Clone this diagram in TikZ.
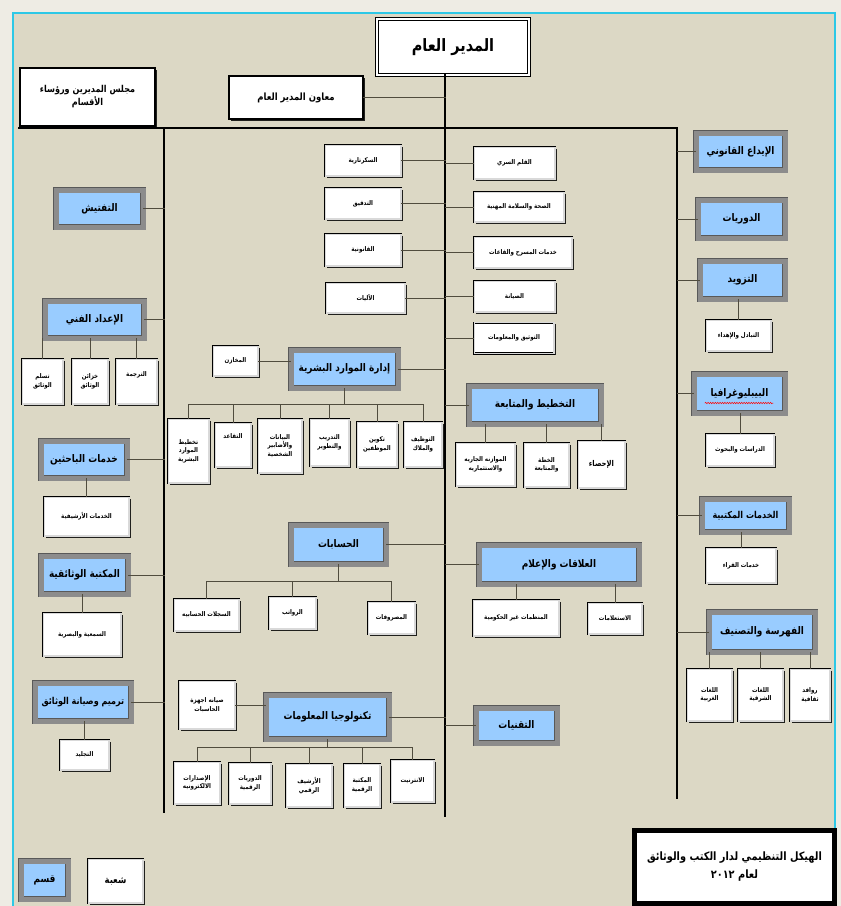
\documentclass[tikz,border=0pt]{standalone}
\usepackage{fontspec}
\newfontfamily\arabicfont[Script=Arabic,FakeStretch=0.85]{DejaVu Sans}
\TeXXeTstate=1
\usetikzlibrary{shadows,decorations.pathmorphing}
\definecolor{paper}{RGB}{220,216,197}
\definecolor{margin}{RGB}{238,236,228}
\definecolor{frame}{RGB}{45,200,230}
\definecolor{deptblue}{RGB}{153,204,255}
\definecolor{deptgray}{RGB}{140,140,140}
\definecolor{linkgray}{RGB}{80,76,62}
\newcommand\ar[1]{\beginR#1\endR}
\tikzset{
  dsz/.style 2 args={minimum width=#1-6, minimum height=#2-6},
  ssz/.style 2 args={minimum width=#1-2.2, minimum height=#2-2.2},
  dept/.style={draw=black!65, line width=0.5pt, double=deptgray, double distance=5pt,
    fill=deptblue, inner sep=1pt, align=center,
    font=\arabicfont\bfseries\fontsize{10.5}{12}\selectfont},
  sect/.style={draw=black, line width=0.5pt, double=gray!30, double distance=1.2pt,
    fill=white, inner sep=1pt, align=center,
    font=\arabicfont\bfseries\fontsize{6.5}{8.5}\selectfont,
    drop shadow={shadow xshift=1.6pt, shadow yshift=-1.6pt, fill=black, opacity=0.85}},
  boss/.style={draw=black, line width=1.8pt, fill=white, align=center, inner sep=2pt,
    drop shadow={shadow xshift=1.5pt, shadow yshift=-1.5pt, fill=black, opacity=0.85},
    font=\arabicfont\bfseries\fontsize{10}{14}\selectfont},
  smaller/.style={font=\arabicfont\bfseries\fontsize{9.5}{11}\selectfont},
  bus/.style={line width=2.6pt, black},
  link/.style={line width=1pt, linkgray},
  uptext/.style={text depth=#1}
}
\begin{document}
\begin{tikzpicture}[x=1pt,y=-1pt,line cap=rect]
\useasboundingbox (0,0) rectangle (841,906);
\fill[margin] (0,0) rectangle (841,906);
\fill[paper] (13,13) rectangle (835,906);
\draw[frame, line width=2.5pt, line cap=butt] (13,906) -- (13,13) -- (835,13) -- (835,906);

%%% top
\node[draw=black, line width=1.4pt, double=white, double distance=1.8pt, fill=white,
  minimum width=152, minimum height=56, font=\arabicfont\bfseries\fontsize{17}{20}\selectfont] (gd) at (453,47) {\ar{المدير العام}};
\node[boss, minimum width=134, minimum height=43] (dep) at (296,97.5) {\ar{معاون المدير العام}};
\node[boss, minimum width=135, minimum height=58, font=\arabicfont\bfseries\fontsize{9.5}{13}\selectfont] (council) at (87.5,97) {\ar{مجلس المديرين ورؤساء}\\\ar{الأقسام}};
\coordinate (bl) at (19,128); \coordinate (br) at (677,128);
\coordinate (ll) at (164,128); \coordinate (cl) at (445,128); \coordinate (rl) at (677,128);
\coordinate (llend) at (164,812); \coordinate (clend) at (445,816); \coordinate (rlend) at (677,798);

%%% left column
\node[dept,dsz={93}{43}] (taft) at (99.5,208.5) {\ar{التفتيش}};
\node[dept,dsz={105}{43}] (iedad) at (94.5,319.5) {\ar{الإعداد الفني}};
\node[sect,ssz={43}{47}] (taslum) at (42.5,381.5) {\ar{تسلم}\\\ar{الوثائق}};
\node[sect,ssz={38}{47}] (khaz) at (90,381.5) {\ar{خزائن}\\\ar{الوثائق}};
\node[sect,ssz={43}{47},uptext=14pt] (tarj) at (136.5,381.5) {\ar{الترجمة}};
\node[dept,dsz={92}{43}] (bahith) at (84,459.5) {\ar{خدمات الباحثين}};
\node[sect,ssz={87}{41}] (arshif) at (86.5,516.5) {\ar{الخدمات الأرشيفية}};
\node[dept,dsz={93}{44}] (wathaiq) at (84.5,575) {\ar{المكتبة الوثائقية}};
\node[sect,ssz={80}{45}] (samiya) at (82,634.5) {\ar{السمعية والبصرية}};
\node[dept,smaller,dsz={102}{44}] (tarmeem) at (83,702) {\ar{ترميم وصيانة الوثائق}};
\node[sect,ssz={51}{32}] (tajleed) at (84.5,755) {\ar{التجليد}};

%%% middle, left of the main line
\node[sect,ssz={78}{33}] (sec) at (363,160.5) {\ar{السكرتارية}};
\node[sect,ssz={78}{33}] (tadq) at (363,203.5) {\ar{التدقيق}};
\node[sect,ssz={78}{34}] (qanun) at (363,250) {\ar{القانونية}};
\node[sect,ssz={81}{32}] (aliyat) at (365.5,298) {\ar{الآليات}};
%%% middle, right of the main line
\node[sect,ssz={83}{34}] (qalam) at (514.5,163) {\ar{القلم السري}};
\node[sect,ssz={92}{32}] (sihha) at (519,207) {\ar{الصحة والسلامة المهنية}};
\node[sect,ssz={100}{33}] (masrah) at (523,252.5) {\ar{خدمات المسرح والقاعات}};
\node[sect,ssz={83}{33}] (siyana) at (514.5,296.5) {\ar{الصيانة}};
\node[sect,ssz={82}{33}] (tawth) at (514,338) {\ar{التوثيق والمعلومات}};

%%% human resources
\node[sect,ssz={47}{32}] (makh) at (235.5,361) {\ar{المخازن}};
\node[dept,dsz={113}{44}] (hr) at (344.5,369) {\ar{إدارة الموارد البشرية}};
\node[sect,ssz={43}{66}] (hr1) at (188.5,451) {\ar{تخطيط}\\\ar{الموارد}\\\ar{البشرية}};
\node[sect,ssz={38}{46},uptext=18pt] (hr2) at (233,445) {\ar{التقاعد}};
\node[sect,ssz={46}{56}] (hr3) at (280,446) {\ar{البيانات}\\\ar{والأضابير}\\\ar{الشخصية}};
\node[sect,ssz={41}{49}] (hr4) at (329.5,442.5) {\ar{التدريب}\\\ar{والتطوير}};
\node[sect,ssz={42}{47}] (hr5) at (377,444.5) {\ar{تكوين}\\\ar{الموظفين}};
\node[sect,ssz={40}{47}] (hr6) at (423,444.5) {\ar{التوظيف}\\\ar{والملاك}};
\coordinate (hrb) at (0,404);

%%% planning
\node[dept,dsz={138}{44}] (plan) at (535,405) {\ar{التخطيط والمتابعة}};
\node[sect,ssz={61}{45}] (muwaz) at (485.5,464.5) {\ar{الموازنه الجاريه}\\\ar{والاستثماريه}};
\node[sect,ssz={47}{46}] (khitta) at (546.5,465) {\ar{الخطة}\\\ar{والمتابعة}};
\node[sect,ssz={49}{49},font=\arabicfont\bfseries\fontsize{8}{9}\selectfont] (ihsa) at (601.5,464.5) {\ar{الإحصاء}};

%%% accounts
\node[dept,dsz={101}{45}] (hisab) at (338.5,544.5) {\ar{الحسابات}};
\node[sect,ssz={67}{34}] (sijil) at (206.5,615) {\ar{السجلات الحسابيه}};
\node[sect,ssz={49}{34}] (rawatib) at (292.5,613) {\ar{الرواتب}};
\node[sect,ssz={49}{34}] (masruf) at (391.5,618) {\ar{المصروفات}};
\coordinate (acb) at (0,581);

%%% relations
\node[dept,dsz={166}{45}] (ilaqat) at (559,564.5) {\ar{العلاقات والإعلام}};
\node[sect,ssz={88}{38}] (munaz) at (516,618) {\ar{المنظمات غير الحكومية}};
\node[sect,ssz={56}{33}] (istil) at (615,618.5) {\ar{الاستعلامات}};

%%% information technology
\node[dept,dsz={129}{50}] (it) at (327.5,717) {\ar{تكنولوجيا المعلومات}};
\node[sect,ssz={58}{50}] (siyhw) at (207,705) {\ar{صيانه اجهزة}\\\ar{الحاسبات}};
\node[sect,ssz={48}{44}] (isdar) at (197,783) {\ar{الإصدارات}\\\ar{الالكترونيه}};
\node[sect,ssz={44}{43}] (dawrR) at (250,783.5) {\ar{الدوريات}\\\ar{الرقمية}};
\node[sect,ssz={48}{45}] (arshR) at (309,785.5) {\ar{الأرشيف}\\\ar{الرقمي}};
\node[sect,ssz={38}{45}] (maktR) at (362,785.5) {\ar{المكتبة}\\\ar{الرقمية}};
\node[sect,ssz={45}{44}] (inter) at (412.5,781) {\ar{الانترنيت}};
\coordinate (itb) at (0,747);
\node[dept,dsz={87}{41}] (taqn) at (516.5,725.5) {\ar{التقنيات}};

%%% right column
\node[dept,dsz={95}{43}] (idaa) at (740.5,151.5) {\ar{الإيداع القانوني}};
\node[dept,dsz={93}{44}] (dawr) at (741.5,219) {\ar{الدوريات}};
\node[dept,dsz={91}{44}] (tazw) at (742.5,280) {\ar{التزويد}};
\node[sect,ssz={67}{33}] (tabad) at (738.5,335.5) {\ar{التبادل والإهداء}};
\node[dept,dsz={97}{45}] (biblio) at (739.5,393.5) {\ar{البيبليوغرافيا}};
\node[sect,ssz={70}{34}] (diras) at (740,450) {\ar{الدراسات والبحوث}};
\node[dept,smaller,dsz={93}{39}] (maktab) at (745.5,515.5) {\ar{الخدمات المكتبية}};
\node[sect,ssz={72}{37}] (qurra) at (741,565.5) {\ar{خدمات القراء}};
\node[dept,dsz={112}{46}] (fahr) at (762,632) {\ar{الفهرسة والتصنيف}};
\node[sect,ssz={47}{54}] (gharb) at (709.5,695) {\ar{اللغات}\\\ar{الغربية}};
\node[sect,ssz={47}{54}] (sharq) at (760.5,695) {\ar{اللغات}\\\ar{الشرقية}};
\node[sect,ssz={42}{54}] (rawaf) at (810,695) {\ar{روافد}\\\ar{ثقافية}};
\draw[red, line width=0.5pt, decorate, decoration={snake, amplitude=0.7pt, segment length=2.4pt}] (705,403) -- (773,403);

%%% legend and title
\node[dept,dsz={53}{44}] (qism) at (44.5,880) {\ar{قسم}};
\node[sect,ssz={57}{46},font=\arabicfont\bfseries\fontsize{10}{11}\selectfont] (shuba) at (115.5,881) {\ar{شعبة}};
\node[draw=black, line width=4.5pt, fill=white, align=center, minimum width=200, minimum height=73,
  font=\arabicfont\bfseries\fontsize{11.5}{18}\selectfont] (title) at (734.5,867)
  {\ar{الهيكل التنظيمي لدار الكتب والوثائق}\\\ar{لعام \beginL ٢٠١٢\endL}};

%%% main lines
\draw[bus] (bl) -- (br) -- (rlend);
\draw[bus] (ll) -- (llend);
\draw[bus] (gd.south -| cl) -- (clend);
\draw[link] (dep) -- (dep -| cl);

%%% branches
\foreach \n in {taft,iedad,bahith,wathaiq,tarmeem}
  \draw[link] (\n) -- (\n -| ll);
\foreach \n in {sec,tadq,qanun,aliyat,hr,hisab,it,qalam,sihha,masrah,siyana,tawth,plan,ilaqat,taqn}
  \draw[link] (\n) -- (\n -| cl);
\foreach \n in {idaa,dawr,tazw,biblio,maktab,fahr}
  \draw[link] (\n) -- (\n -| rl);
\foreach \p/\c in {iedad/taslum,iedad/khaz,iedad/tarj,bahith/arshif,wathaiq/samiya,tarmeem/tajleed,
  tazw/tabad,biblio/diras,maktab/qurra,fahr/gharb,fahr/sharq,fahr/rawaf,
  plan/muwaz,plan/khitta,plan/ihsa,ilaqat/munaz,ilaqat/istil}
  \draw[link] (\p.south -| \c) -- (\c);
\draw[link] (makh) -- (makh -| hr.west);
\draw[link] (siyhw) -- (siyhw -| it.west);
%%% sub-buses
\draw[link] (hr.south) -- (hr.south |- hrb);
\draw[link] (hr1 |- hrb) -- (hr6 |- hrb);
\foreach \c in {hr1,hr2,hr3,hr4,hr5,hr6}
  \draw[link] (\c |- hrb) -- (\c);
\draw[link] (hisab.south) -- (hisab.south |- acb);
\draw[link] (sijil |- acb) -- (masruf |- acb);
\foreach \c in {sijil,rawatib,masruf}
  \draw[link] (\c |- acb) -- (\c);
\draw[link] (it.south) -- (it.south |- itb);
\draw[link] (isdar |- itb) -- (inter |- itb);
\foreach \c in {isdar,dawrR,arshR,maktR,inter}
  \draw[link] (\c |- itb) -- (\c);
\end{tikzpicture}
\end{document}
